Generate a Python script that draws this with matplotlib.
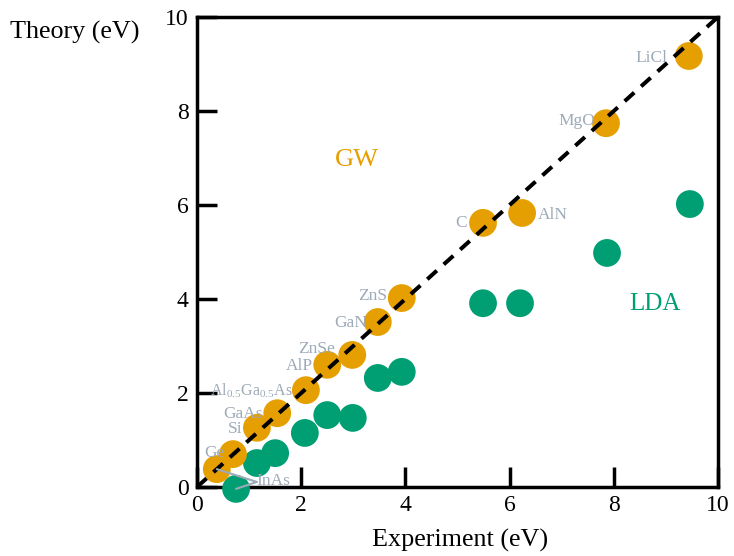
import matplotlib
matplotlib.use("Agg")
import matplotlib.pyplot as plt
import numpy as np

plt.rcParams['font.family'] = ['Liberation Serif', 'DejaVu Serif']
plt.rcParams['mathtext.fontset'] = 'custom'
plt.rcParams['mathtext.rm'] = 'Liberation Serif'
plt.rcParams['mathtext.it'] = 'Liberation Serif:italic'

# Band gaps (eV): experiment vs. GW theory
gw_materials = ["InAs", "Ge", "Si", "GaAs", r"Al$_{0.5}$Ga$_{0.5}$As", "AlP",
                "ZnSe", "GaN", "ZnS", "C", "AlN", "MgO", "LiCl"]
gw_exp = [0.38, 0.69, 1.15, 1.54, 2.09, 2.50, 2.98, 3.47, 3.93, 5.49, 6.24, 7.85, 9.44]
gw_theory = [0.38, 0.70, 1.26, 1.57, 2.06, 2.60, 2.81, 3.51, 4.02, 5.62, 5.83, 7.74, 9.17]

# Band gaps (eV): experiment vs. LDA theory
lda_exp = [0.75, 1.15, 1.50, 2.07, 2.50, 2.99, 3.47, 3.93, 5.49, 6.20, 7.87, 9.46]
lda_theory = [-0.04, 0.51, 0.72, 1.15, 1.53, 1.47, 2.32, 2.45, 3.91, 3.91, 4.98, 6.02]

x_ticks = [0, 2, 4, 6, 8, 10]
y_ticks = [0, 2, 4, 6, 8, 10]

ORANGE = "#E69F00"
GREEN = "#009E73"
LABEL_GRAY = "#9DAAB8"

fig = plt.figure(figsize=(7.34, 5.56), dpi=100)
ax = fig.add_axes([197/734, 1 - 487/556, 521/734, 470/556])

ax.set_xlim(0, 10)
ax.set_ylim(0, 10)

ax.scatter(lda_exp, lda_theory, s=400, color=GREEN, edgecolors='none',
           zorder=3, clip_on=False)
ax.scatter(gw_exp, gw_theory, s=400, color=ORANGE, edgecolors='none',
           zorder=3, clip_on=False)

# y = x reference line
ax.plot([0, 10], [0, 10], color='black', lw=2.9, dashes=[3.2, 2.3],
        zorder=4, solid_capstyle='butt')

# material labels: (dx, dy) offsets in pixels, alignment, font size
label_offsets = {
    "Ge": (-8, -3, 'right', 12.5),
    "Si": (-14, -5, 'right', 12.5),
    "GaAs": (-14, -5, 'right', 12.5),
    r"Al$_{0.5}$Ga$_{0.5}$As": (-13, -5, 'right', 11.5),
    "AlP": (-14, -5, 'right', 12.5),
    "ZnSe": (-17, 2, 'right', 12.5),
    "GaN": (-11, -5, 'right', 12.5),
    "ZnS": (-15, -2, 'right', 12.5),
    "C": (-16, -4, 'right', 12.5),
    "AlN": (16, -6, 'left', 12.5),
    "MgO": (-11, -2, 'right', 12.5),
    "LiCl": (-21, -6, 'right', 12.5),
}
for name, xv, yv in zip(gw_materials, gw_exp, gw_theory):
    if name not in label_offsets:
        continue
    dx, dy, ha, fs = label_offsets[name]
    ax.annotate(name, (xv, yv), xytext=(dx, dy), textcoords='offset pixels',
                ha=ha, va='baseline', fontsize=fs, color=LABEL_GRAY,
                zorder=5, annotation_clip=False)

# InAs label with leader lines to both of its points
inas_txt = ax.annotate("InAs", (gw_exp[0], gw_theory[0]), xytext=(40, -16),
                       textcoords='offset pixels', ha='left', va='baseline',
                       fontsize=12.5, color=LABEL_GRAY, zorder=5,
                       annotation_clip=False)
for xv, yv in [(gw_exp[0], gw_theory[0]), (lda_exp[0], lda_theory[0])]:
    ax.annotate("", xy=(xv, yv), xytext=(0, 0.45), textcoords=inas_txt,
                arrowprops=dict(arrowstyle='-', color=LABEL_GRAY, lw=1.5,
                                shrinkA=0, shrinkB=0),
                zorder=5, annotation_clip=False)

ax.text(3.07, 6.95, "GW", color=ORANGE, fontsize=19, ha='center', va='center')
ax.text(8.79, 3.90, "LDA", color=GREEN, fontsize=18, ha='center', va='center')

ax.set_xticks(x_ticks)
ax.set_yticks(y_ticks)
ax.set_xticklabels([str(t) for t in x_ticks])
ax.set_yticklabels([str(t) for t in y_ticks])
ax.tick_params(direction='in', length=14.5, width=2.5, labelsize=17, pad=6,
               color='black')
for sp in ax.spines.values():
    sp.set_linewidth(2.5)

ax.set_xlabel("Experiment (eV)", fontsize=18.8, va='center')
ax.xaxis.set_label_coords(0.505, -0.113)
ax.set_ylabel("Theory (eV)", fontsize=18.8, rotation=0, ha='center', va='center')
ax.yaxis.set_label_coords(-0.234, 0.968)

fig.savefig("out.png", dpi=100)
